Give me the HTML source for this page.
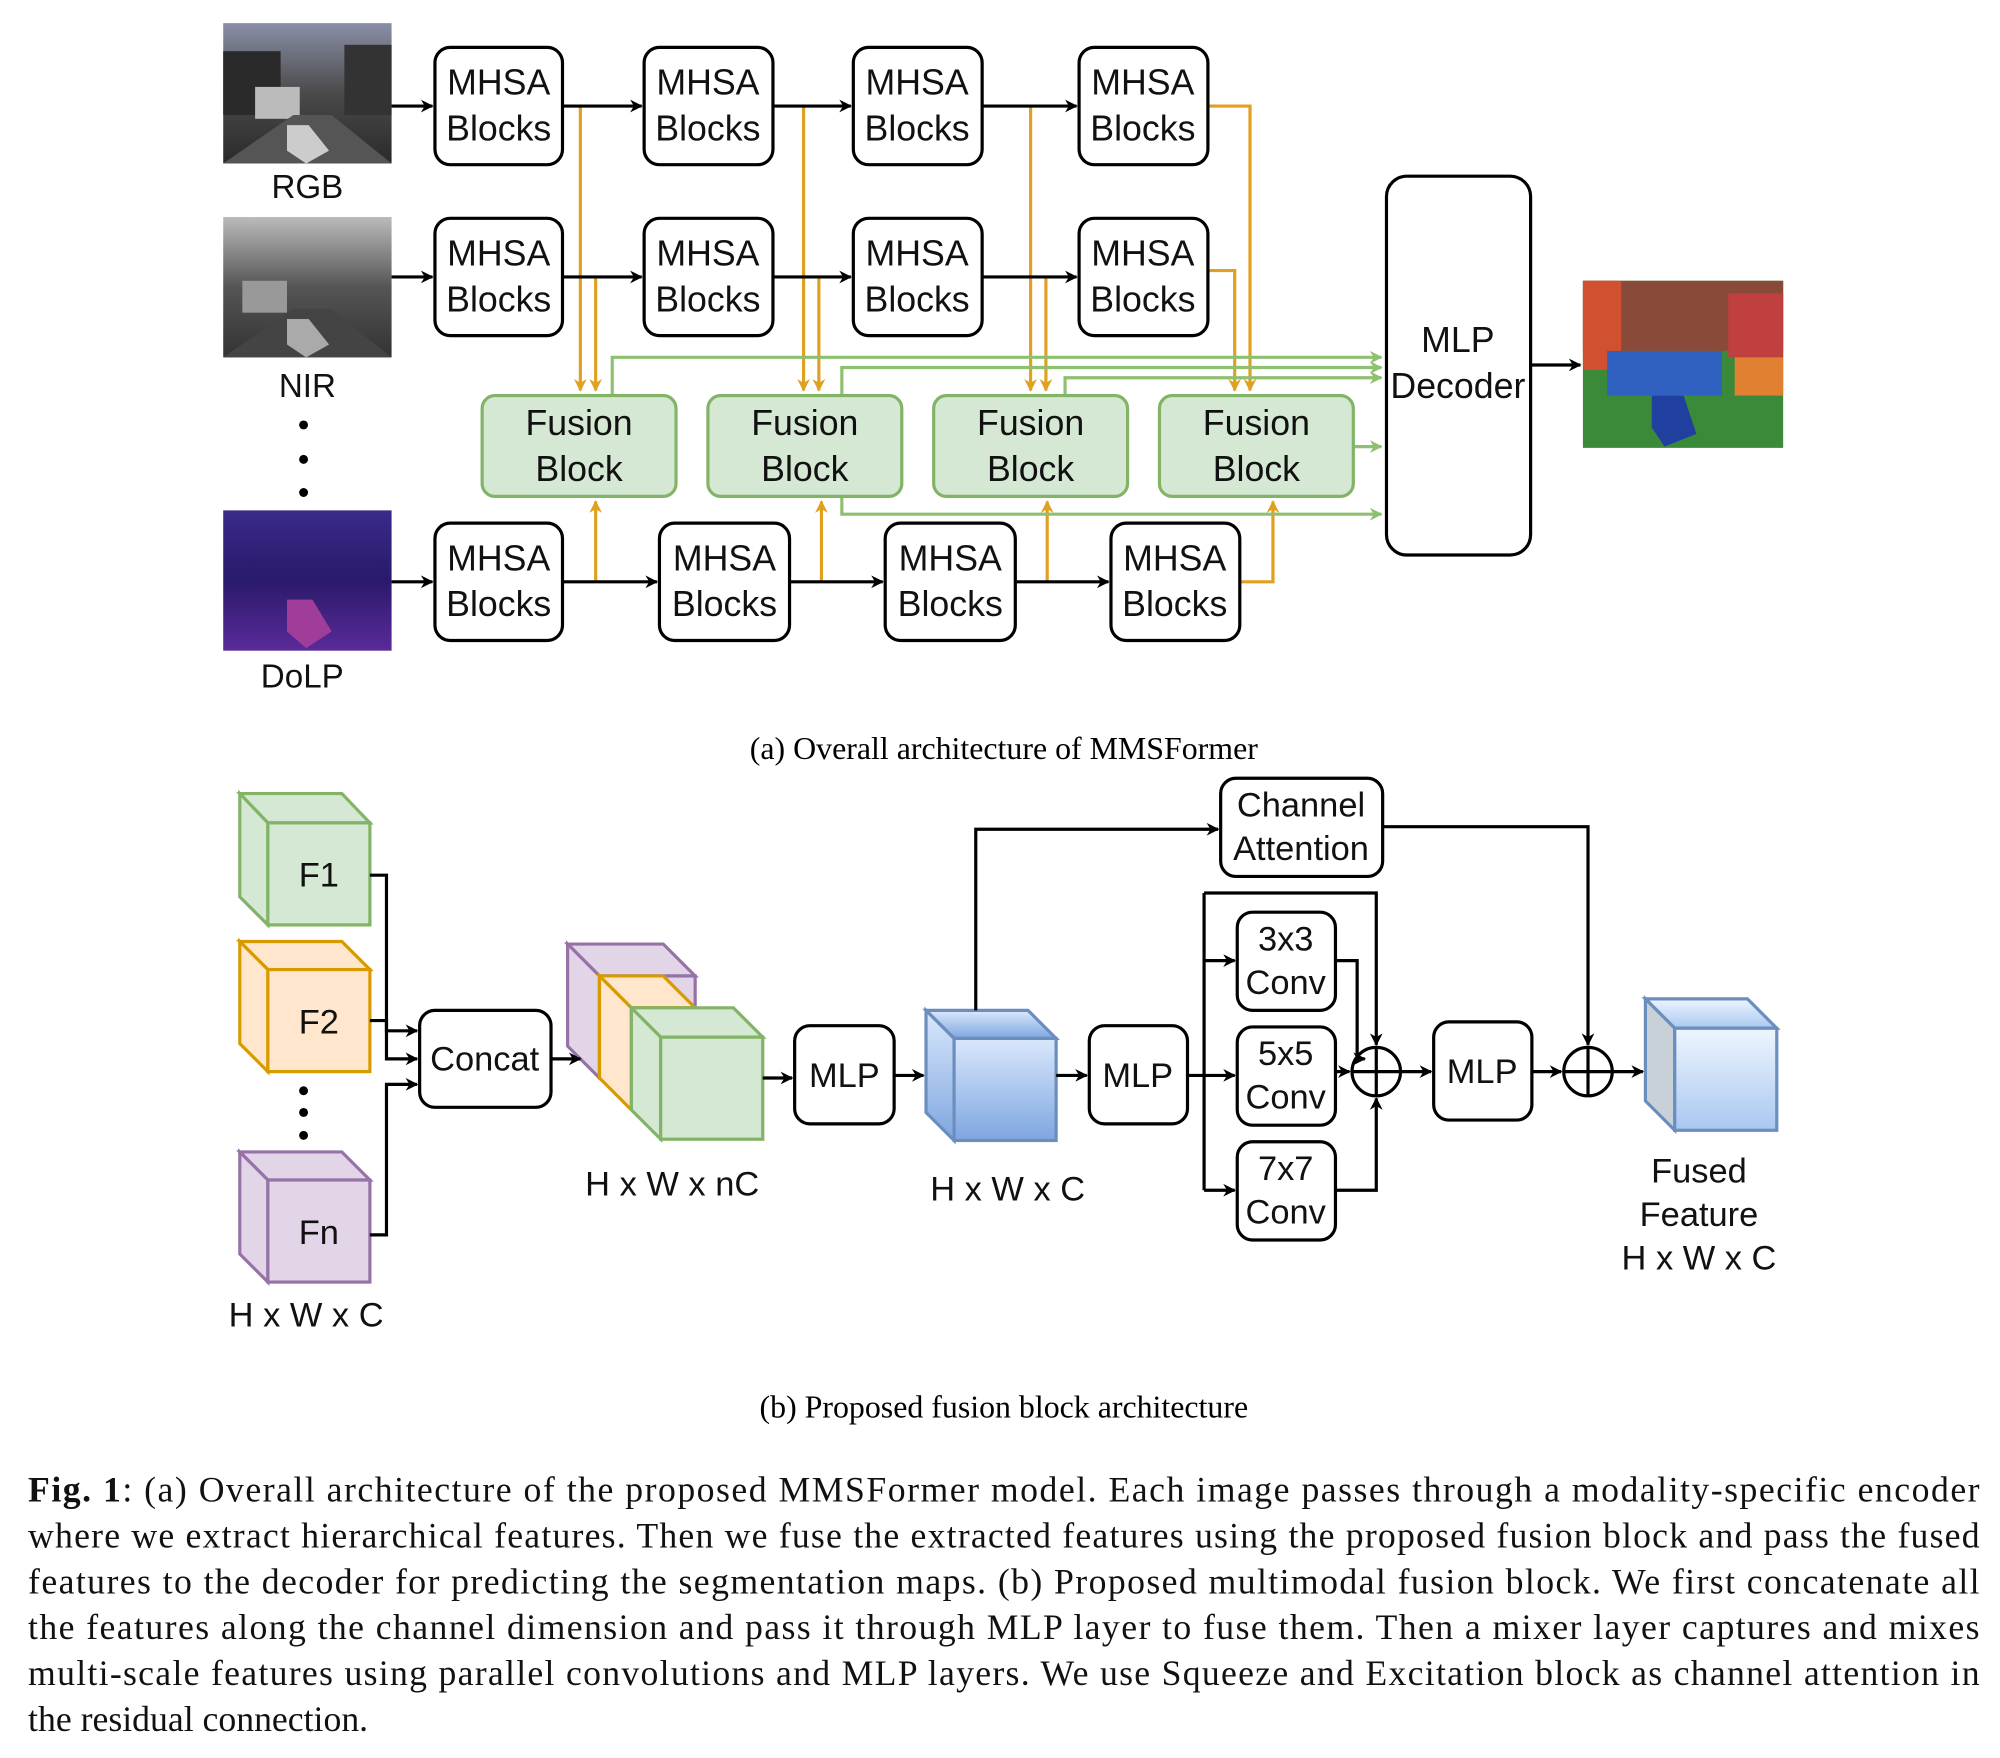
<!DOCTYPE html>
<html><head><meta charset="utf-8"><style>
html,body{margin:0;padding:0;background:#fff;}
svg{display:block;}
.s{font-family:"Liberation Sans",sans-serif;}
.r{font-family:"Liberation Serif",serif;}
</style></head><body>
<svg width="2000" height="1758" viewBox="0 0 1568 1378" xmlns="http://www.w3.org/2000/svg">
<defs>
<marker id="ab" markerWidth="10" markerHeight="10" refX="9" refY="5" orient="auto" markerUnits="userSpaceOnUse"><path d="M0,0 L10,5 L0,10 L3,5z" fill="#000"/></marker>
<marker id="ao" markerWidth="10" markerHeight="10" refX="9" refY="5" orient="auto" markerUnits="userSpaceOnUse"><path d="M0,0 L10,5 L0,10 L3,5z" fill="#e0a020"/></marker>
<marker id="ag" markerWidth="10" markerHeight="10" refX="9" refY="5" orient="auto" markerUnits="userSpaceOnUse"><path d="M0,0 L10,5 L0,10 L3,5z" fill="#8fc070"/></marker>
<linearGradient id="rgb" x1="0" y1="0" x2="0" y2="1"><stop offset="0" stop-color="#8a8fa8"/><stop offset="0.5" stop-color="#4a4a4a"/><stop offset="1" stop-color="#2a2a2a"/></linearGradient>
<linearGradient id="nir" x1="0" y1="0" x2="0" y2="1"><stop offset="0" stop-color="#bbb"/><stop offset="0.5" stop-color="#555"/><stop offset="1" stop-color="#333"/></linearGradient>
<linearGradient id="dolp" x1="0" y1="0" x2="0" y2="1"><stop offset="0" stop-color="#3a2a8a"/><stop offset="0.5" stop-color="#2a1a6a"/><stop offset="1" stop-color="#5a2a9a"/></linearGradient>
<linearGradient id="blu" x1="0" y1="0" x2="0" y2="1"><stop offset="0" stop-color="#dae8fc"/><stop offset="1" stop-color="#7ea6e0"/></linearGradient>
<linearGradient id="fus" x1="0" y1="0" x2="0" y2="1"><stop offset="0" stop-color="#eef5ff"/><stop offset="1" stop-color="#a9c8f0"/></linearGradient>
</defs>

<!-- images -->
<rect x="175" y="18" width="132" height="110" fill="url(#rgb)"/>
<rect x="175" y="40" width="45" height="50" fill="#2a2a2a"/><rect x="270" y="35" width="37" height="55" fill="#333"/>
<rect x="200" y="68" width="35" height="25" fill="#bbb"/>
<polygon points="175,128 230,90 260,90 307,128" fill="#555"/>
<polygon points="225,98 242,98 258,118 240,128 225,118" fill="#ccc"/>
<rect x="175" y="170" width="132" height="110" fill="url(#nir)"/>
<rect x="190" y="220" width="35" height="25" fill="#999"/>
<polygon points="175,280 230,242 260,242 307,280" fill="#444"/>
<polygon points="225,250 242,250 258,270 240,280 225,270" fill="#aaa"/>
<rect x="175" y="400" width="132" height="110" fill="url(#dolp)"/>
<polygon points="225,470 245,470 260,495 240,508 225,495" fill="#a03c9a"/>
<rect x="1241" y="220" width="157" height="131" fill="#3a8a3a"/>
<rect x="1241" y="220" width="157" height="55" fill="#8a4a3a"/>
<rect x="1241" y="220" width="30" height="70" fill="#d05030"/>
<rect x="1355" y="230" width="43" height="50" fill="#c04040"/>
<rect x="1260" y="275" width="90" height="35" fill="#3060c0"/>
<polygon points="1295,310 1320,310 1330,340 1305,350 1295,335" fill="#2040a0"/>
<rect x="1360" y="280" width="38" height="30" fill="#e08030"/>
<g class="s" font-size="26" text-anchor="middle" fill="#111">
<text x="241" y="155">RGB</text><text x="241" y="311">NIR</text><text x="237" y="539">DoLP</text>
</g>
<circle cx="238" cy="333" r="3.5"/><circle cx="238" cy="360" r="3.5"/><circle cx="238" cy="386" r="3.5"/>

<!-- orange lines -->
<g stroke="#e0a020" stroke-width="2.5" fill="none">
<path d="M455,83 V306" marker-end="url(#ao)"/><path d="M467,217 V306" marker-end="url(#ao)"/>
<path d="M630,83 V306" marker-end="url(#ao)"/><path d="M642,217 V306" marker-end="url(#ao)"/>
<path d="M808,83 V306" marker-end="url(#ao)"/><path d="M820,217 V306" marker-end="url(#ao)"/>
<path d="M947,83 H980 V306" marker-end="url(#ao)"/><path d="M947,212 H968 V306" marker-end="url(#ao)"/>
<path d="M467,456 V393" marker-end="url(#ao)"/><path d="M644,456 V393" marker-end="url(#ao)"/>
<path d="M821,456 V393" marker-end="url(#ao)"/><path d="M972,456 H998 V393" marker-end="url(#ao)"/>
</g>
<!-- green lines -->
<g stroke="#8fc070" stroke-width="2.5" fill="none">
<path d="M480,310 V280 H1083" marker-end="url(#ag)"/>
<path d="M660,310 V288 H1083" marker-end="url(#ag)"/>
<path d="M835,310 V296 H1083" marker-end="url(#ag)"/>
<path d="M1061,350 H1083" marker-end="url(#ag)"/>
<path d="M660,388 V403 H1083" marker-end="url(#ag)"/>
</g>
<!-- black row arrows -->
<g stroke="#000" stroke-width="2.5" fill="none">
<path d="M307,83 H339" marker-end="url(#ab)"/><path d="M441,83 H503" marker-end="url(#ab)"/><path d="M606,83 H667" marker-end="url(#ab)"/><path d="M770,83 H844" marker-end="url(#ab)"/>
<path d="M307,217 H339" marker-end="url(#ab)"/><path d="M441,217 H503" marker-end="url(#ab)"/><path d="M606,217 H667" marker-end="url(#ab)"/><path d="M770,217 H844" marker-end="url(#ab)"/>
<path d="M307,456 H339" marker-end="url(#ab)"/><path d="M441,456 H515" marker-end="url(#ab)"/><path d="M619,456 H692" marker-end="url(#ab)"/><path d="M796,456 H869" marker-end="url(#ab)"/>
<path d="M1200,286 H1239" marker-end="url(#ab)"/>
</g>
<!-- MHSA boxes -->
<g fill="#fff" stroke="#000" stroke-width="2.5">
<rect x="341" y="37" width="100" height="92" rx="12"/><rect x="505" y="37" width="101" height="92" rx="12"/><rect x="669" y="37" width="101" height="92" rx="12"/><rect x="846" y="37" width="101" height="92" rx="12"/>
<rect x="341" y="171" width="100" height="92" rx="12"/><rect x="505" y="171" width="101" height="92" rx="12"/><rect x="669" y="171" width="101" height="92" rx="12"/><rect x="846" y="171" width="101" height="92" rx="12"/>
<rect x="341" y="410" width="100" height="92" rx="12"/><rect x="517" y="410" width="102" height="92" rx="12"/><rect x="694" y="410" width="102" height="92" rx="12"/><rect x="871" y="410" width="101" height="92" rx="12"/>
<rect x="1087" y="138" width="113" height="297" rx="16"/>
</g>
<g fill="#d5e8d4" stroke="#82b366" stroke-width="2.5">
<rect x="378" y="310" width="152" height="79" rx="10"/><rect x="555" y="310" width="152" height="79" rx="10"/><rect x="732" y="310" width="152" height="79" rx="10"/><rect x="909" y="310" width="152" height="79" rx="10"/>
</g>
<g class="s" font-size="28" text-anchor="middle" fill="#111">
<text x="391" y="74">MHSA</text><text x="391" y="110">Blocks</text>
<text x="555" y="74">MHSA</text><text x="555" y="110">Blocks</text>
<text x="719" y="74">MHSA</text><text x="719" y="110">Blocks</text>
<text x="896" y="74">MHSA</text><text x="896" y="110">Blocks</text>
<text x="391" y="208">MHSA</text><text x="391" y="244">Blocks</text>
<text x="555" y="208">MHSA</text><text x="555" y="244">Blocks</text>
<text x="719" y="208">MHSA</text><text x="719" y="244">Blocks</text>
<text x="896" y="208">MHSA</text><text x="896" y="244">Blocks</text>
<text x="391" y="447">MHSA</text><text x="391" y="483">Blocks</text>
<text x="568" y="447">MHSA</text><text x="568" y="483">Blocks</text>
<text x="745" y="447">MHSA</text><text x="745" y="483">Blocks</text>
<text x="921" y="447">MHSA</text><text x="921" y="483">Blocks</text>
<text x="454" y="341">Fusion</text><text x="454" y="377">Block</text>
<text x="631" y="341">Fusion</text><text x="631" y="377">Block</text>
<text x="808" y="341">Fusion</text><text x="808" y="377">Block</text>
<text x="985" y="341">Fusion</text><text x="985" y="377">Block</text>
<text x="1143" y="276">MLP</text><text x="1143" y="312">Decoder</text>
</g>
<text class="r" x="787" y="595" font-size="25" text-anchor="middle">(a) Overall architecture of MMSFormer</text>

<!-- part b cubes -->
<g stroke-width="2.5">
<g fill="#d5e8d4" stroke="#82b366"><polygon points="188,622 268,622 290,645 210,645"/><polygon points="188,622 210,645 210,725 188,703"/><rect x="210" y="645" width="80" height="80"/></g>
<g fill="#ffe6cc" stroke="#d79b00"><polygon points="188,738 268,738 290,760 210,760"/><polygon points="188,738 210,760 210,840 188,818"/><rect x="210" y="760" width="80" height="80"/></g>
<g fill="#e1d5e7" stroke="#9673a6"><polygon points="188,903 268,903 290,925 210,925"/><polygon points="188,903 210,925 210,1005 188,983"/><rect x="210" y="925" width="80" height="80"/></g>
<g fill="#e1d5e7" stroke="#9673a6"><polygon points="445,740 520,740 545,765 470,765"/><polygon points="445,740 470,765 470,845 445,820"/><rect x="470" y="765" width="75" height="80"/></g>
<g fill="#ffe6cc" stroke="#d79b00"><polygon points="470,765 520,765 545,790 495,790"/><polygon points="470,765 495,790 495,870 470,845"/><rect x="495" y="790" width="50" height="55"/></g>
<g fill="#d5e8d4" stroke="#82b366"><polygon points="495,790 575,790 598,813 518,813"/><polygon points="495,790 518,813 518,893 495,870"/><rect x="518" y="813" width="80" height="80"/></g>
<g fill="url(#blu)" stroke="#6c8ebf"><polygon points="726,792 806,792 828,814 748,814"/><polygon points="726,792 748,814 748,894 726,872"/><rect x="748" y="814" width="80" height="80"/></g>
<g fill="url(#fus)" stroke="#6c8ebf"><polygon points="1290,783 1370,783 1393,806 1313,806"/><polygon points="1290,783 1313,806 1313,886 1290,863" fill="#c8d0d8"/><rect x="1313" y="806" width="80" height="80"/></g>
</g>
<circle cx="238" cy="855" r="3.5"/><circle cx="238" cy="872" r="3.5"/><circle cx="238" cy="890" r="3.5"/>

<g stroke="#000" stroke-width="2.5" fill="none">
<path d="M290,686 H303 V808 H327" marker-end="url(#ab)"/>
<path d="M290,800 H303 V830 H327" marker-end="url(#ab)"/>
<path d="M290,968 H303 V850 H327" marker-end="url(#ab)"/>
<path d="M432,830 H455" marker-end="url(#ab)"/>
<path d="M598,845 H621" marker-end="url(#ab)"/>
<path d="M701,843 H724" marker-end="url(#ab)"/>
<path d="M828,843 H852" marker-end="url(#ab)"/>
<path d="M765,792 V650 H955" marker-end="url(#ab)"/>
<path d="M1084,648 H1245 V819" marker-end="url(#ab)"/>
<path d="M931,843 H968" marker-end="url(#ab)"/>
<path d="M944,700 V933"/>
<path d="M944,753 H968" marker-end="url(#ab)"/>
<path d="M944,933 H968" marker-end="url(#ab)"/>
<path d="M944,700 H1079 V819" marker-end="url(#ab)"/>
<path d="M1047,753 H1064 V830 L1070,830" marker-end="url(#ab)"/>
<path d="M1047,840 H1058" marker-end="url(#ab)"/>
<path d="M1047,933 H1079 V861" marker-end="url(#ab)"/>
<path d="M1098,840 H1122" marker-end="url(#ab)"/>
<path d="M1201,840 H1224" marker-end="url(#ab)"/>
<path d="M1264,840 H1288" marker-end="url(#ab)"/>
<circle cx="1079" cy="840" r="19"/><path d="M1060,840 H1098 M1079,821 V859"/>
<circle cx="1245" cy="840" r="19"/><path d="M1226,840 H1264 M1245,821 V859"/>
</g>
<g fill="#fff" stroke="#000" stroke-width="2.5">
<rect x="329" y="792" width="103" height="76" rx="12"/>
<rect x="623" y="804" width="78" height="77" rx="12"/>
<rect x="854" y="804" width="77" height="77" rx="12"/>
<rect x="970" y="715" width="77" height="77" rx="12"/>
<rect x="970" y="805" width="77" height="77" rx="12"/>
<rect x="970" y="895" width="77" height="77" rx="12"/>
<rect x="1124" y="801" width="77" height="77" rx="12"/>
<rect x="957" y="610" width="127" height="77" rx="12"/>
</g>
<g class="s" font-size="27" text-anchor="middle" fill="#111">
<text x="250" y="695">F1</text><text x="250" y="810">F2</text><text x="250" y="975">Fn</text>
<text x="240" y="1040">H x W x C</text>
<text x="380" y="839">Concat</text>
<text x="527" y="937">H x W x nC</text>
<text x="662" y="852">MLP</text>
<text x="790" y="941">H x W x C</text>
<text x="892" y="852">MLP</text>
<text x="1008" y="745">3x3</text><text x="1008" y="779">Conv</text>
<text x="1008" y="835">5x5</text><text x="1008" y="869">Conv</text>
<text x="1008" y="925">7x7</text><text x="1008" y="959">Conv</text>
<text x="1162" y="849">MLP</text>
<text x="1020" y="640">Channel</text><text x="1020" y="674">Attention</text>
<text x="1332" y="927">Fused</text><text x="1332" y="961">Feature</text><text x="1332" y="995">H x W x C</text>
</g>
<text class="r" x="787" y="1111" font-size="25" text-anchor="middle">(b) Proposed fusion block architecture</text>

<g class="r" font-size="28" fill="#111">
<text x="22" y="1177" textLength="1530" lengthAdjust="spacing"><tspan font-weight="bold">Fig. 1</tspan>: (a) Overall architecture of the proposed MMSFormer model.  Each image passes through a modality-specific encoder</text>
<text x="22" y="1213" textLength="1530" lengthAdjust="spacing">where we extract hierarchical features. Then we fuse the extracted features using the proposed fusion block and pass the fused</text>
<text x="22" y="1249" textLength="1530" lengthAdjust="spacing">features to the decoder for predicting the segmentation maps.  (b) Proposed multimodal fusion block.  We first concatenate all</text>
<text x="22" y="1285" textLength="1530" lengthAdjust="spacing">the features along the channel dimension and pass it through MLP layer to fuse them.  Then a mixer layer captures and mixes</text>
<text x="22" y="1321" textLength="1530" lengthAdjust="spacing">multi-scale features using parallel convolutions and MLP layers.  We use Squeeze and Excitation block as channel attention in</text>
<text x="22" y="1357">the residual connection.</text>
</g>
</svg>
</body></html>
